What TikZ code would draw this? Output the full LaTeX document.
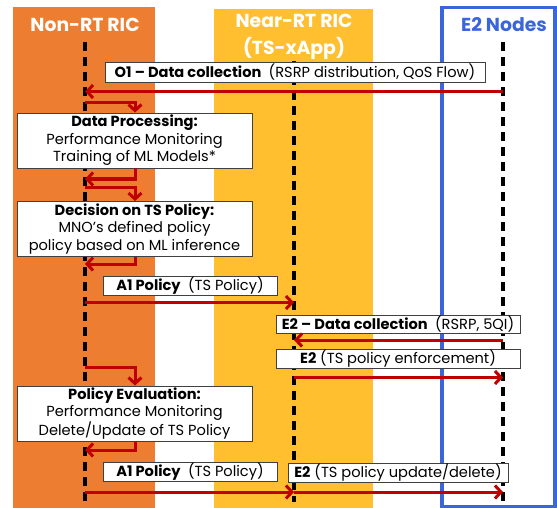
\documentclass[tikz,border=0pt]{standalone}
\usepackage{fontspec}
\setmainfont{Poppins}
\usetikzlibrary{arrows.meta}
\definecolor{orng}{HTML}{ED7D31}
\definecolor{gold}{HTML}{FFBF2F}
\definecolor{eblue}{HTML}{3B66DB}
\definecolor{ared}{HTML}{C00000}
\begin{document}
\begin{tikzpicture}[x=1pt,y=-1pt,
  lifeline/.style={line width=3.2pt, dash pattern=on 9pt off 6pt, black},
  msg/.style={ared, line width=3pt, -{Straight Barb[length=6pt,width=13pt]}},
  box/.style={draw=black!75, fill=white, line width=0.9pt, inner sep=0pt, align=center,
    font=\fontsize{14.6}{17.5}\selectfont},
  title/.style={font=\fontsize{18.8}{27}\selectfont\bfseries}
]
\useasboundingbox (0,0) rectangle (557,508);
% columns
\fill[orng] (13,7.5) rectangle (155,508);
\fill[gold] (213.5,9.5) rectangle (373,508);
\draw[eblue, line width=3.5pt] (442,7.5) rectangle (555,506.5);
% titles
\node[title, white] (tnon) at (85,25) {Non-RT RIC};
\node[title, white, align=center] (tnear) at (294,36.5) {Near-RT RIC\\(TS-xApp)};
\node[title, eblue] (te2) at (504,25) {E2 Nodes};
% lifelines
\coordinate (n0) at (85,42);  \coordinate (n1) at (85,502);
\coordinate (r0) at (294,61); \coordinate (r1) at (294,502);
\coordinate (e0) at (503,42); \coordinate (e1) at (503,502);
\draw[lifeline] (n0) -- (n1);
\draw[lifeline] (r0) -- (r1);
\draw[lifeline] (e0) -- (e1);
% boxes
\node[box, minimum width=380, minimum height=20] (o1) at (295,72)
  {\textbf{O1 – Data collection}\enspace(RSRP distribution, QoS Flow)};
\node[box, minimum width=235, minimum height=55] (dp) at (134.5,140.5)
  {\textbf{Data Processing:}\\Performance Monitoring\\Training of ML Models*};
\node[box, minimum width=235, minimum height=55] (dec) at (134.5,229)
  {\textbf{Decision on TS Policy:}\\MNO’s defined policy\\policy based on ML inference};
\node[box, minimum width=174, minimum height=19] (a1) at (190,286)
  {\textbf{A1 Policy}\enspace(TS Policy)};
\node[box, minimum width=244, minimum height=18] (e2dc) at (398,324)
  {\textbf{E2 – Data collection}\enspace(RSRP, 5QI)};
\node[box, minimum width=244, minimum height=19] (e2en) at (398,358.5)
  {\textbf{E2} (TS policy enforcement)};
\node[box, minimum width=235, minimum height=55] (pe) at (134.5,413.5)
  {\textbf{Policy Evaluation:}\\Performance Monitoring\\Delete/Update of TS Policy};
\node[box, minimum width=174, minimum height=19] (a1b) at (190,472)
  {\textbf{A1 Policy}\enspace(TS Policy)};
\node[box, minimum width=220, minimum height=19] (e2up) at (398,473)
  {\textbf{E2} (TS policy update/delete)};
% message endpoints
\coordinate (m1s) at (503,91.5); \coordinate (m1e) at (85,91.5);
\coordinate (s1a) at (85,103);  \coordinate (s1b) at (135,103);
\coordinate (d1a) at (135,179); \coordinate (d1b) at (85,179);
\coordinate (s2a) at (85,187);  \coordinate (s2b) at (135,187);
\coordinate (d2a) at (135,264); \coordinate (d2b) at (85,264);
\coordinate (a1s) at (85,302.5); \coordinate (a1e) at (294,302.5);
\coordinate (e2s) at (503,340); \coordinate (e2e) at (294,340);
\coordinate (ens) at (294,377.5); \coordinate (ene) at (503,377.5);
\coordinate (s3a) at (85,367);  \coordinate (s3b) at (135,367);
\coordinate (d3a) at (135,450); \coordinate (d3b) at (85,450);
\coordinate (fs) at (85,492); \coordinate (fm) at (294,492); \coordinate (fe) at (503,492);
% messages
\draw[msg] (m1s) -- (m1e);
\draw[msg] (s1a) -- (s1b) -- (dp.north -| s1b);
\draw[msg] (dp.south -| d1a) -- (d1a) -- (d1b);
\draw[msg] (s2a) -- (s2b) -- (dec.north -| s2b);
\draw[msg] (dec.south -| d2a) -- (d2a) -- (d2b);
\draw[msg] (a1s) -- (a1e);
\draw[msg] (e2s) -- (e2e);
\draw[msg] (ens) -- (ene);
\draw[msg] (s3a) -- (s3b) -- (pe.north -| s3b);
\draw[msg] (pe.south -| d3a) -- (d3a) -- (d3b);
\draw[msg] (fs) -- (fm);
\draw[msg] (fm) -- (fe);
\end{tikzpicture}
\end{document}
